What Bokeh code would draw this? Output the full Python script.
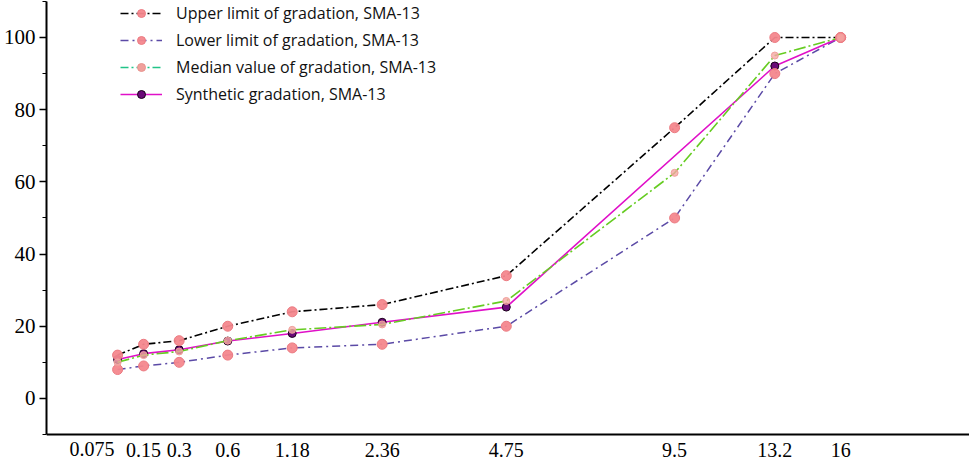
import numpy as np
from bokeh.plotting import figure
from bokeh.models import (Range1d, FixedTicker, SingleIntervalTicker,
                          CustomJSTickFormatter, Legend, LegendItem, Label)
from bokeh.embed import file_html
from bokeh.resources import INLINE

# ---------------- data ----------------
sieve = [0.075, 0.15, 0.3, 0.6, 1.18, 2.36, 4.75, 9.5, 13.2, 16]
tick_labels = ["0.075", "0.15", "0.3", "0.6", "1.18", "2.36", "4.75", "9.5", "13.2", "16"]
upper = [12, 15, 16, 20, 24, 26, 34, 75, 100, 100]
lower = [8, 9, 10, 12, 14, 15, 20, 50, 90, 100]
median = [10, 12, 13, 16, 19, 20.5, 27, 62.5, 95, 100]
synth_sieve = [0.075, 0.15, 0.3, 0.6, 1.18, 2.36, 4.75, 13.2, 16]
synthetic = [10.8, 12.4, 13.5, 15.9, 18.0, 21.1, 25.3, 92.1, 100]

names = ["Upper limit of gradation, SMA-13",
         "Lower limit of gradation, SMA-13",
         "Median value of gradation, SMA-13",
         "Synthetic gradation, SMA-13"]

POW = 0.45  # gradation chart x-axis: sieve size ** 0.45
xs = (np.array(sieve) ** POW).tolist()
xs_syn = (np.array(synth_sieve) ** POW).tolist()

Y_AXIS_MIN, Y_AXIS_MAX = -10, 110

p = figure(frame_width=923, frame_height=460, output_backend="svg", toolbar_location=None,
           x_range=Range1d(0.0, 4.047), y_range=Range1d(-17.2, 110.25),
           min_border_left=44, min_border_right=2, min_border_top=0,
           min_border_bottom=0)
p.grid.visible = False
p.outline_line_color = None
p.background_fill_color = "white"

PINK = "#f4878d"

r_up_l = p.line(xs, upper, line_color="black", line_width=1.6, line_dash="8 3 2 3")
r_lo_l = p.line(xs, lower, line_color="#5b4aa6", line_width=1.5, line_dash="8 4 2 4")
r_sy_l = p.line(xs_syn, synthetic, line_color="#e010c8", line_width=1.6)
r_sy_m = p.scatter(xs_syn, synthetic, marker="circle", size=8,
                   fill_color="#6a0a78", line_color="#1a001a", line_width=1)
r_me_l = p.line(xs, median, line_color="#66cc22", line_width=1.6, line_dash="12 3 2 3")
r_up_m = p.scatter(xs, upper, marker="circle", size=10, fill_color=PINK,
                   line_color="#ec7b82", fill_alpha=0.95)
r_lo_m = p.scatter(xs, lower, marker="circle", size=10, fill_color=PINK,
                   line_color="#ec7b82", fill_alpha=0.95)
r_me_m = p.scatter(xs, median, marker="circle", size=7, fill_color="#f5a8a4",
                   line_color="#f0a09c", fill_alpha=0.8)

# legend-only glyphs for the median entry (teal dash in the key), no visible data
leg_me_l = p.line([np.nan], [np.nan], line_color="#22c488", line_width=1.6, line_dash="8 3 2 3")
leg_me_m = p.scatter([np.nan], [np.nan], marker="circle", size=7, fill_color="#f0a09c",
                     line_color="#e8948f")

legend = Legend(items=[
    LegendItem(label=names[0], renderers=[r_up_l, r_up_m]),
    LegendItem(label=names[1], renderers=[r_lo_l, r_lo_m]),
    LegendItem(label=names[2], renderers=[leg_me_l, leg_me_m]),
    LegendItem(label=names[3], renderers=[r_sy_l, r_sy_m]),
], location=(74, 355))
legend.background_fill_alpha = 0
legend.border_line_alpha = 0
legend.padding = 0
legend.margin = 0
legend.spacing = 5
legend.glyph_width = 42
legend.glyph_height = 20
legend.label_height = 20
legend.label_standoff = 14
legend.label_text_font = "Open Sans"
legend.label_text_font_size = "16px"
legend.label_text_color = "#111111"
p.add_layout(legend, "center")

AX_FONT = "Liberation Serif"
AX_SIZE = "20px"

# x axis drawn at y = -10 (the bottom end of the y axis)
p.xaxis.fixed_location = Y_AXIS_MIN
p.xaxis.ticker = FixedTicker(ticks=xs[1:])
p.xaxis.formatter = CustomJSTickFormatter(args=dict(pos=xs, labels=tick_labels), code="""
    let best = 0;
    for (let i = 0; i < pos.length; i++) {
        if (Math.abs(pos[i] - tick) < Math.abs(pos[best] - tick)) best = i;
    }
    return labels[best];
""")
p.xaxis.major_tick_line_color = None
p.xaxis.minor_tick_line_color = None
p.xaxis.axis_line_width = 2
p.xaxis.axis_line_color = "black"
p.xaxis.major_label_standoff = 2
p.xaxis.major_label_text_font = AX_FONT
p.xaxis.major_label_text_font_size = AX_SIZE
p.xaxis.major_label_text_color = "black"

# first label right-aligned so that it does not collide with "0.15"
first_lab = Label(x=xs[0], y=Y_AXIS_MIN, text=tick_labels[0],
                  x_offset=-3, y_offset=-7, text_align="right", text_baseline="top",
                  text_font=AX_FONT, text_font_size=AX_SIZE, text_color="black")
p.add_layout(first_lab)

# y axis
p.yaxis.bounds = (Y_AXIS_MIN, Y_AXIS_MAX)
p.yaxis.ticker = SingleIntervalTicker(interval=20, num_minor_ticks=2)
p.yaxis.axis_line_width = 2
p.yaxis.axis_line_color = "black"
p.yaxis.major_tick_line_color = "black"
p.yaxis.minor_tick_line_color = "black"
p.yaxis.major_tick_line_width = 1.5
p.yaxis.minor_tick_line_width = 1.2
p.yaxis.major_tick_out = 7
p.yaxis.major_tick_in = 0
p.yaxis.minor_tick_out = 4
p.yaxis.minor_tick_in = 0
p.yaxis.major_label_standoff = 4
p.yaxis.major_label_text_font = AX_FONT
p.yaxis.major_label_text_font_size = "21px"
p.yaxis.major_label_text_color = "black"

open("out.html", "w").write(file_html(p, INLINE))
